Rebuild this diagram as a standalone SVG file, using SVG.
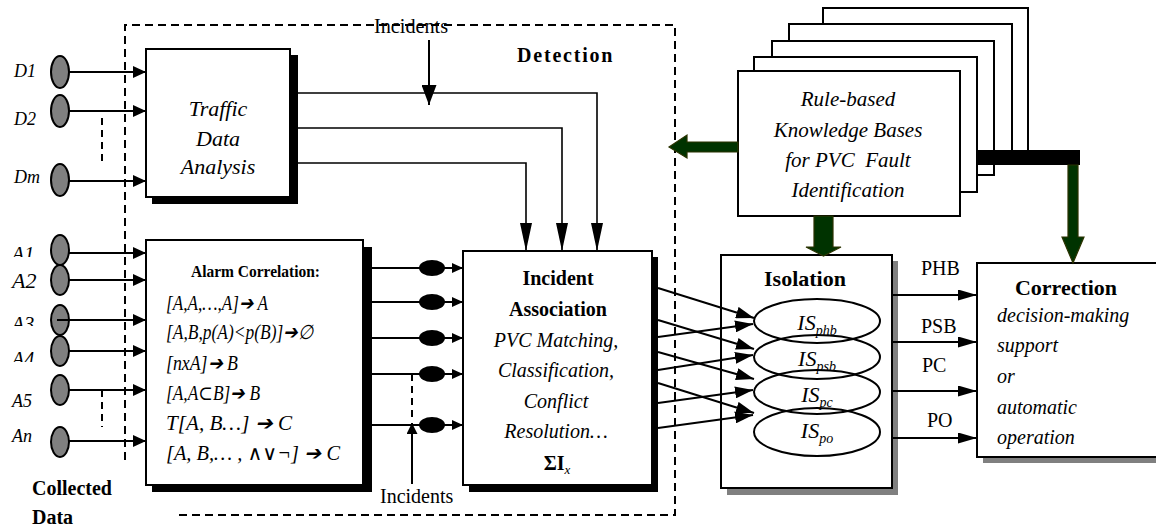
<svg xmlns="http://www.w3.org/2000/svg" width="1156" height="527" viewBox="0 0 1156 527">
  <style>
    text { font-family: "Liberation Serif", "Times New Roman", "DejaVu Serif", serif; fill: #000; }
    .it { font-style: italic; }
    .bd { font-weight: bold; }
    .box { fill: #fff; stroke: #000; stroke-width: 2; }
    .shadowK { fill: #000; }
    .shadowG { fill: #808080; }
    .src { fill: #808080; stroke: #000; stroke-width: 2; }
    .ln { fill: none; stroke: #000; stroke-width: 2; }
    .thin { fill: none; stroke: #000; stroke-width: 1.6; }
    .dash { fill: none; stroke: #000; stroke-width: 2; stroke-dasharray: 8 5; }
    .sdash { fill: none; stroke: #000; stroke-width: 2; stroke-dasharray: 7 5; }
    .iso { fill: none; stroke: #000; stroke-width: 2; }
    .kb { fill: #003300; stroke: #2b3300; stroke-width: 1.2; }
  </style>
  <defs>
    <marker id="ahIn" markerUnits="userSpaceOnUse" markerWidth="13" markerHeight="12" refX="13" refY="6" orient="auto">
      <path d="M0,0 L13,6 L0,12 z" fill="#000"/>
    </marker>
    <marker id="ahSm" markerUnits="userSpaceOnUse" markerWidth="11" markerHeight="10" refX="11" refY="5" orient="auto">
      <path d="M0,0 L11,5 L0,10 z" fill="#000"/>
    </marker>
    <marker id="ahX" markerUnits="userSpaceOnUse" markerWidth="18" markerHeight="12" refX="18" refY="6" orient="auto">
      <path d="M0,0 L18,6 L0,12 z" fill="#000"/>
    </marker>
    <marker id="ahOut" markerUnits="userSpaceOnUse" markerWidth="19" markerHeight="11" refX="19" refY="5.5" orient="auto">
      <path d="M0,0 L19,5.5 L0,11 z" fill="#000"/>
    </marker>
    <marker id="ahTall" markerUnits="userSpaceOnUse" markerWidth="28" markerHeight="12" refX="28" refY="6" orient="auto">
      <path d="M0,0 L28,6 L0,12 z" fill="#000"/>
    </marker>
    <marker id="ahTop" markerUnits="userSpaceOnUse" markerWidth="20" markerHeight="15" refX="20" refY="7.5" orient="auto">
      <path d="M0,0 L20,7.5 L0,15 z" fill="#000"/>
    </marker>
    <marker id="ahBot" markerUnits="userSpaceOnUse" markerWidth="11" markerHeight="11" refX="11" refY="5.5" orient="auto">
      <path d="M0,0 L11,5.5 L0,11 z" fill="#000"/>
    </marker>
    <clipPath id="cA1"><rect x="0" y="230" width="45" height="27"/></clipPath>
    <clipPath id="cA3"><rect x="0" y="300" width="45" height="26"/></clipPath>
    <clipPath id="cA4"><rect x="0" y="336" width="45" height="26"/></clipPath>
  </defs>

  <!-- Detection stage boundary -->
  <g id="detection">
    <path class="dash" d="M125,460 V25 H675 V515 H178"/>
    <text class="bd" x="517" y="62" font-size="20" letter-spacing="1.8">Detection</text>
  </g>

  <!-- Collected data sources -->
  <g id="sources">
    <text class="it" x="14" y="77" font-size="18">D1</text>
    <text class="it" x="14" y="125" font-size="18">D2</text>
    <text class="it" x="14" y="183" font-size="18">Dm</text>
    <ellipse class="src" cx="60" cy="72" rx="9" ry="16"/>
    <ellipse class="src" cx="60" cy="111" rx="9" ry="16"/>
    <ellipse class="src" cx="60" cy="180" rx="9" ry="16"/>

    <text class="it" x="12" y="261" font-size="20" clip-path="url(#cA1)">A1</text>
    <text class="it" x="12" y="288" font-size="22">A2</text>
    <text class="it" x="12" y="331" font-size="20" clip-path="url(#cA3)">A3</text>
    <text class="it" x="12" y="366" font-size="20" clip-path="url(#cA4)">A4</text>
    <text class="it" x="12" y="407" font-size="18">A5</text>
    <text class="it" x="12" y="442" font-size="18">An</text>
    <ellipse class="src" cx="60" cy="250" rx="9" ry="15"/>
    <ellipse class="src" cx="60" cy="280" rx="9" ry="15"/>
    <ellipse class="src" cx="60" cy="320" rx="9" ry="15"/>
    <ellipse class="src" cx="60" cy="351" rx="9" ry="15"/>
    <ellipse class="src" cx="60" cy="390" rx="9" ry="15"/>
    <ellipse class="src" cx="60" cy="442" rx="9" ry="15"/>

    <text class="bd" x="32" y="495" font-size="20">Collected</text>
    <text class="bd" x="32" y="524" font-size="20">Data</text>
  </g>

  <!-- Traffic Data Analysis -->
  <g id="traffic">
    <rect class="shadowK" x="152" y="55" width="146" height="149"/>
    <rect class="box" x="146" y="49" width="144" height="148"/>
    <text class="it" x="218" y="116" font-size="22" text-anchor="middle">Traffic</text>
    <text class="it" x="218" y="146" font-size="22" text-anchor="middle">Data</text>
    <text class="it" x="218" y="174" font-size="22" text-anchor="middle">Analysis</text>
  </g>

  <!-- Alarm Correlation rules -->
  <g id="alarm">
    <rect class="shadowK" x="152" y="247" width="220" height="245"/>
    <rect class="box" x="146" y="240" width="217" height="245"/>
    <text class="bd" x="191" y="277" font-size="17" textLength="129" lengthAdjust="spacingAndGlyphs">Alarm Correlation:</text>
    <text class="it" x="166" y="310" font-size="20" textLength="102" lengthAdjust="spacingAndGlyphs">[A,A,…,A]➔ A</text>
    <text class="it" x="166" y="339" font-size="20" textLength="147" lengthAdjust="spacingAndGlyphs">[A,B,p(A)&lt;p(B)]➔∅</text>
    <text class="it" x="166" y="370" font-size="20" textLength="72" lengthAdjust="spacingAndGlyphs">[nxA]➔ B</text>
    <text class="it" x="166" y="400" font-size="20" textLength="94" lengthAdjust="spacingAndGlyphs">[A,A⊂B]➔ B</text>
    <text class="it" x="166" y="430" font-size="20" textLength="126" lengthAdjust="spacingAndGlyphs">T[A, B…] ➔ C</text>
    <text class="it" x="166" y="460" font-size="20" textLength="174" lengthAdjust="spacingAndGlyphs">[A, B,… , ∧∨¬] ➔ C</text>
  </g>

  <!-- Incident Association -->
  <g id="association">
    <rect class="shadowK" x="469" y="257" width="189" height="235"/>
    <rect class="box" x="463" y="251" width="189" height="234"/>
    <text class="bd" x="558" y="285" font-size="20" text-anchor="middle">Incident</text>
    <text class="bd" x="558" y="316" font-size="20" text-anchor="middle">Association</text>
    <text class="it" x="556" y="347" font-size="20" text-anchor="middle">PVC Matching,</text>
    <text class="it" x="556" y="377" font-size="20" text-anchor="middle">Classification,</text>
    <text class="it" x="556" y="408" font-size="20" text-anchor="middle">Conflict</text>
    <text class="it" x="556" y="438" font-size="20" text-anchor="middle">Resolution…</text>
    <text x="557" y="470" font-size="20" text-anchor="middle"><tspan class="bd">ΣI</tspan><tspan class="it" font-size="13" dy="4">x</tspan></text>
  </g>

  <!-- Knowledge bases stack -->
  <g id="knowledge">
    <rect class="box" x="823" y="8" width="205" height="150"/>
    <rect class="box" x="789" y="24" width="223" height="134"/>
    <rect class="box" x="772" y="41" width="222" height="134"/>
    <rect class="box" x="754" y="57" width="223" height="135"/>
    <rect class="box" x="738" y="71" width="222" height="145"/>
    <text class="it" x="848" y="106" font-size="21" text-anchor="middle">Rule-based</text>
    <text class="it" x="848" y="137" font-size="21" text-anchor="middle">Knowledge Bases</text>
    <text class="it" x="848" y="167" font-size="21" text-anchor="middle" xml:space="preserve">for PVC  Fault</text>
    <text class="it" x="848" y="197" font-size="21" text-anchor="middle">Identification</text>
    <rect x="977" y="150" width="103" height="15" fill="#000"/>
  </g>

  <!-- Isolation -->
  <g id="isolation">
    <rect class="shadowG" x="727" y="261" width="171" height="234"/>
    <rect class="box" x="721" y="255" width="171" height="233"/>
    <text class="bd" x="805" y="286" font-size="22" text-anchor="middle">Isolation</text>
    <ellipse class="iso" cx="817" cy="321" rx="63" ry="22"/>
    <ellipse class="iso" cx="817" cy="357" rx="63" ry="22"/>
    <ellipse class="iso" cx="817" cy="392" rx="63" ry="22"/>
    <ellipse class="iso" cx="817" cy="432" rx="63" ry="24"/>
    <text class="it" x="817" y="330" font-size="22" text-anchor="middle">IS<tspan font-size="14" dy="5">phb</tspan></text>
    <text class="it" x="817" y="366" font-size="22" text-anchor="middle">IS<tspan font-size="14" dy="5">psb</tspan></text>
    <text class="it" x="817" y="402" font-size="22" text-anchor="middle">IS<tspan font-size="14" dy="5">pc</tspan></text>
    <text class="it" x="817" y="438" font-size="22" text-anchor="middle">IS<tspan font-size="14" dy="5">po</tspan></text>
  </g>

  <!-- Correction -->
  <g id="correction">
    <rect class="shadowG" x="983" y="269" width="200" height="194"/>
    <rect class="box" x="977" y="263" width="200" height="194"/>
    <text class="bd" x="1066" y="295" font-size="22" text-anchor="middle">Correction</text>
    <text class="it" x="997" y="322" font-size="20">decision-making</text>
    <text class="it" x="997" y="352" font-size="20">support</text>
    <text class="it" x="997" y="383" font-size="20">or</text>
    <text class="it" x="997" y="414" font-size="20">automatic</text>
    <text class="it" x="997" y="444" font-size="20">operation</text>
  </g>

  <!-- Connectors -->
  <g id="connectors">
    <!-- inputs into Traffic Data Analysis -->
    <line class="ln" x1="69" y1="72" x2="146" y2="72" marker-end="url(#ahIn)"/>
    <line class="ln" x1="69" y1="111" x2="146" y2="111" marker-end="url(#ahIn)"/>
    <line class="ln" x1="69" y1="181" x2="146" y2="181" marker-end="url(#ahIn)"/>
    <line class="sdash" x1="102" y1="118" x2="102" y2="163"/>

    <!-- inputs into Alarm Correlation -->
    <line class="ln" x1="69" y1="253" x2="146" y2="253" marker-end="url(#ahIn)"/>
    <line class="ln" x1="69" y1="280" x2="146" y2="280" marker-end="url(#ahIn)"/>
    <line class="ln" x1="57" y1="320" x2="146" y2="320" marker-end="url(#ahIn)"/>
    <line class="ln" x1="69" y1="351" x2="146" y2="351" marker-end="url(#ahIn)"/>
    <line class="ln" x1="69" y1="390" x2="146" y2="390" marker-end="url(#ahIn)"/>
    <line class="ln" x1="69" y1="441" x2="146" y2="441" marker-end="url(#ahIn)"/>
    <line class="sdash" x1="102" y1="390" x2="102" y2="427"/>

    <!-- Traffic Data Analysis to Incident Association -->
    <path class="thin" d="M298,93 H597 V251" marker-end="url(#ahTall)"/>
    <path class="thin" d="M298,128 H562 V251" marker-end="url(#ahTall)"/>
    <path class="thin" d="M298,163 H526 V251" marker-end="url(#ahTall)"/>
    <line class="ln" x1="429" y1="40" x2="429" y2="105" marker-end="url(#ahTop)"/>
    <text x="374" y="33" font-size="20" textLength="74" lengthAdjust="spacingAndGlyphs">Incidents</text>

    <!-- Alarm Correlation to Incident Association -->
    <line class="ln" x1="372" y1="268" x2="463" y2="268" marker-end="url(#ahSm)"/>
    <line class="ln" x1="372" y1="302" x2="463" y2="302" marker-end="url(#ahSm)"/>
    <line class="ln" x1="372" y1="338" x2="463" y2="338" marker-end="url(#ahSm)"/>
    <line class="ln" x1="372" y1="374" x2="463" y2="374" marker-end="url(#ahSm)"/>
    <line class="ln" x1="372" y1="425" x2="463" y2="425" marker-end="url(#ahSm)"/>
    <ellipse cx="432" cy="268" rx="13" ry="8" fill="#000"/>
    <ellipse cx="432" cy="302" rx="13" ry="8" fill="#000"/>
    <ellipse cx="432" cy="338" rx="13" ry="8" fill="#000"/>
    <ellipse cx="432" cy="374" rx="13" ry="8" fill="#000"/>
    <ellipse cx="432" cy="425" rx="13" ry="8" fill="#000"/>
    <line class="sdash" x1="412" y1="374" x2="412" y2="420"/>
    <line class="ln" x1="412" y1="484" x2="412" y2="423" marker-end="url(#ahBot)"/>
    <text x="380" y="503" font-size="20">Incidents</text>

    <!-- Incident Association to Isolation -->
    <line class="ln" x1="658" y1="288" x2="754" y2="318" marker-end="url(#ahX)"/>
    <line class="ln" x1="658" y1="320" x2="754" y2="349" marker-end="url(#ahX)"/>
    <line class="ln" x1="658" y1="352" x2="754" y2="379" marker-end="url(#ahX)"/>
    <line class="ln" x1="658" y1="383" x2="754" y2="413" marker-end="url(#ahX)"/>
    <line class="ln" x1="658" y1="337" x2="753" y2="324" marker-end="url(#ahX)"/>
    <line class="ln" x1="658" y1="370" x2="753" y2="355" marker-end="url(#ahX)"/>
    <line class="ln" x1="658" y1="403" x2="753" y2="390" marker-end="url(#ahX)"/>
    <line class="ln" x1="658" y1="428" x2="753" y2="415" marker-end="url(#ahX)"/>

    <!-- Isolation to Correction -->
    <line class="ln" x1="892" y1="295" x2="977" y2="295" marker-end="url(#ahOut)"/>
    <line class="ln" x1="892" y1="342" x2="977" y2="342" marker-end="url(#ahOut)"/>
    <line class="ln" x1="892" y1="391" x2="977" y2="391" marker-end="url(#ahOut)"/>
    <line class="ln" x1="892" y1="438" x2="977" y2="438" marker-end="url(#ahOut)"/>
    <text x="921" y="275" font-size="20">PHB</text>
    <text x="921" y="333" font-size="20">PSB</text>
    <text x="922" y="372" font-size="20">PC</text>
    <text x="927" y="427" font-size="20">PO</text>

    <!-- knowledge feeds -->
    <polygon class="kb" points="738,142 687,142 687,135 669,147 687,158 687,152 738,152"/>
    <polygon class="kb" points="814,216 833,216 833,247 841,247 823.5,256 806,247 814,247"/>
    <polygon class="kb" points="1068,165 1078,165 1078,237 1084,237 1073,263 1062,237 1068,237"/>
  </g>
</svg>
